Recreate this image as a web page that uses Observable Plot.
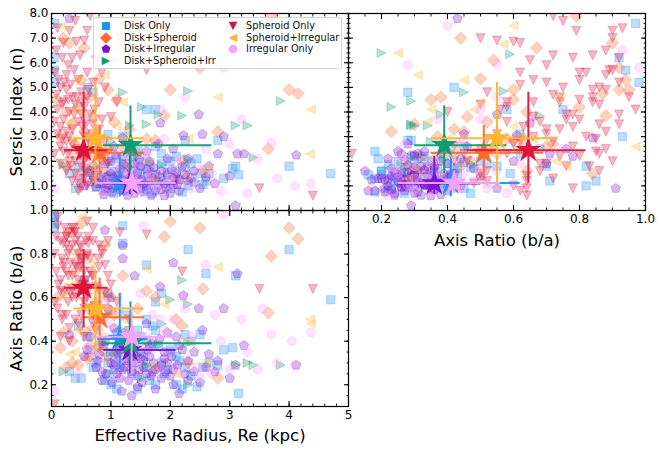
<!DOCTYPE html>
<html><head><meta charset="utf-8">
<script src="https://cdn.jsdelivr.net/npm/d3@7"></script>
<script src="https://cdn.jsdelivr.net/npm/@observablehq/plot@0.6"></script>
<style>
body{margin:0;background:#fff;font-family:"DejaVu Sans",sans-serif;}
#wrap{position:relative;width:663px;height:451px;overflow:hidden;background:#fff;}
#wrap > svg{position:absolute;}
#legend{position:absolute;left:93px;top:17px;width:249px;height:52px;box-sizing:border-box;border:1px solid #d4d4d4;border-radius:3px;background:rgba(255,255,255,0.85);font-size:9.8px;color:#111;}
#legend .it{position:absolute;white-space:nowrap;line-height:12px;}
#legend svg{position:absolute;overflow:visible;}
</style></head><body><div id="wrap"><div id="legend"></div></div>
<script>
// ---------- categories ----------
const categories = ["Disk Only","Disk+Spheroid","Disk+Irregular","Disk+Spheroid+Irr","Spheroid Only","Spheroid+Irregular","Irregular Only"];
const colors = ["#1E90FF","#FF6B2C","#7A14D2","#0E9C74","#DC143C","#FFB52E","#F7A3F7"];

// ---------- galaxies: [Re (kpc), Sersic n, axis ratio b/a] ----------
const diskOnly = [[0.05,7.6,0.97],[0.05,6.2,0.92],[0.05,5.7,0.94],[0.05,5.2,0.98],[0.60,5.0,0.42],[0.70,4.8,0.28],[1.60,4.1,0.75],[1.75,4.1,0.58],[0.95,3.1,0.62],[1.20,3.0,0.93],[1.75,2.6,0.45],[2.25,2.85,0.28],[2.10,2.2,0.33],[1.60,2.0,0.50],[1.85,1.9,0.30],[2.35,1.9,0.40],[2.50,1.5,0.43],[2.65,1.5,0.30],[2.35,1.35,0.24],[3.10,1.8,0.70],[3.05,1.7,0.37],[3.15,1.45,0.16],[4.00,1.8,0.82],[4.70,1.5,0.59],[2.80,2.85,0.29],[0.50,1.3,0.23],[1.20,1.2,0.85],[1.60,1.0,0.28],[2.30,1.0,0.82],[0.90,0.8,0.22],[2.60,1.2,0.71],[1.00,1.6,0.20],[1.40,1.4,0.35],[1.30,0.9,0.45],[0.80,1.1,0.38],[1.10,2.1,0.32],[1.50,1.7,0.42],[1.90,1.2,0.25],[2.00,0.9,0.36],[0.70,1.8,0.55],[1.70,0.7,0.47],[2.10,1.6,0.20],[1.25,1.9,0.52],[0.95,1.4,0.30],[1.45,2.4,0.18],[0.40,0.9,0.23],[1.85,2.3,0.62],[1.05,0.7,0.27],[2.45,2.1,0.19],[0.55,2.5,0.68],
  [0.85,1.35,0.40],[1.05,1.05,0.35],[1.15,1.55,0.28],[1.35,1.15,0.25],[1.55,1.35,0.33],[1.65,1.85,0.22],[1.80,1.05,0.38],[1.95,1.55,0.27],[2.15,1.25,0.31],[2.25,1.75,0.43],[0.65,1.55,0.36],[0.75,0.95,0.30],[1.25,0.8,0.40],[1.45,1.95,0.45],[1.75,1.45,0.20],[2.00,2.0,0.35],[2.55,1.05,0.28],[0.45,1.75,0.47],[1.10,1.3,0.18],[1.35,2.2,0.30],[0.30,1.5,0.26],[2.90,1.3,0.36],[0.95,2.0,0.25],[1.60,0.85,0.40],[2.20,0.75,0.18]];
const diskSpheroid = [[3.70,7.9,0.79],[0.80,5.35,0.50],[0.50,5.3,0.94],[0.95,4.9,0.60],[1.10,4.5,0.35],[1.90,3.85,0.88],[1.60,2.9,0.63],[1.75,2.85,0.60],[2.20,2.0,0.47],[2.30,1.4,0.30],[2.55,1.6,0.64],[2.10,1.3,0.50],[3.65,2.5,0.53],[4.00,4.9,0.92],[4.15,4.75,0.87],[0.30,6.8,0.90],[0.20,7.0,0.44],[0.55,6.6,0.67],[1.30,3.3,0.42],[0.35,3.5,0.30],[0.60,2.2,0.32],[0.45,4.2,0.80],[0.15,3.0,0.37],[2.50,5.8,0.92],[0.70,3.8,0.46],[1.45,2.3,0.55],[0.25,1.8,0.28],[0.90,1.5,0.84],[1.20,2.6,0.70],[2.80,3.2,0.23],[0.40,2.7,0.72],[1.00,6.1,0.54],[0.65,4.6,0.38],[2.00,4.9,0.95],[0.10,4.5,0.60],
  [0.35,2.4,0.40],[0.55,3.2,0.45],[0.75,2.9,0.58],[0.85,2.1,0.36],[1.05,3.6,0.52],[0.25,4.0,0.64],[0.65,1.6,0.33],[1.25,1.8,0.44],[0.45,1.4,0.29],[0.95,2.5,0.62]];
const diskIrregular = [[0.30,7.8,0.43],[2.48,3.9,0.55],[1.83,3.55,0.65],[2.22,3.05,0.61],[2.05,2.5,0.76],[2.54,3.1,0.45],[2.90,3.0,0.55],[2.80,2.3,0.31],[3.13,2.3,0.71],[3.24,2.3,0.38],[4.12,2.25,0.29],[3.00,1.4,0.23],[1.20,2.2,0.78],[1.40,1.9,0.70],[1.60,1.7,0.48],[1.00,1.5,0.30],[1.10,1.2,0.25],[1.30,1.0,0.22],[1.50,0.9,0.35],[1.70,1.3,0.26],[1.90,1.1,0.32],[2.10,1.5,0.42],[2.30,1.2,0.31],[2.50,0.9,0.21],[0.90,1.9,0.40],[0.80,1.1,0.34],[1.20,0.8,0.27],[1.45,1.3,0.19],[1.65,2.0,0.38],[1.85,1.6,0.29],[2.00,0.7,0.24],[2.20,1.8,0.36],[1.05,2.6,0.46],[1.35,2.4,0.33],[0.95,0.9,0.55],[1.25,1.5,0.41],[1.55,1.1,0.28],[1.75,0.8,0.18],[2.40,1.6,0.26],[2.65,1.8,0.34],[0.70,1.4,0.50],[1.15,1.7,0.23],[1.40,0.7,0.30],[1.60,2.4,0.25],[1.95,2.1,0.44],[2.15,0.8,0.16],[1.00,2.0,0.60],[1.30,1.2,0.37],[1.70,1.5,0.39],[2.05,1.3,0.20],[0.85,2.3,0.26],[1.50,1.8,0.32],[1.80,2.7,0.28],[2.30,2.1,0.22],[3.10,0.2,0.29],[1.10,1.0,0.44],[1.35,1.6,0.15],[2.75,1.1,0.26],[0.60,1.7,0.36],[1.90,0.6,0.35],[1.20,2.95,0.84],[0.90,0.9,0.91],
  [0.75,0.95,0.28],[0.85,1.25,0.22],[0.95,1.05,0.33],[1.05,1.35,0.29],[1.15,0.85,0.36],[1.25,1.15,0.31],[1.35,0.95,0.26],[1.45,1.55,0.24],[1.55,0.75,0.31],[1.65,1.05,0.33],[1.75,1.25,0.27],[1.85,0.85,0.23],[1.95,1.45,0.30],[2.05,1.05,0.27],[2.15,1.25,0.38],[0.65,1.15,0.42],[0.78,1.65,0.31],[0.92,1.35,0.25],[1.02,0.75,0.21],[1.12,1.45,0.34],[1.22,1.85,0.28],[1.32,1.35,0.40],[1.42,1.05,0.33],[1.52,1.25,0.21],[1.62,1.45,0.36],[1.72,1.75,0.30],[1.82,1.35,0.41],[1.92,0.95,0.26],[2.02,1.65,0.33],[2.12,1.05,0.29],[2.25,1.45,0.25],[2.40,1.15,0.35],[2.60,1.35,0.28],[0.88,0.65,0.38],[1.08,2.25,0.30],[1.28,0.62,0.32],[1.48,2.05,0.27],[1.68,0.62,0.24],[0.55,1.0,0.33],[1.18,1.25,0.17]];
const diskSpheroidIrr = [[1.20,4.8,0.45],[1.52,4.2,0.23],[3.86,4.45,0.29],[3.10,3.45,0.29],[3.30,3.45,0.30],[3.40,2.15,0.29],[1.32,3.45,0.34],[1.86,1.85,0.48],[2.30,6.4,0.20],[2.00,6.35,0.59],[2.30,4.85,0.57],[1.80,3.9,0.38],[2.20,3.85,0.68],[0.20,1.85,0.26],[2.30,2.1,0.39],[1.60,3.5,0.29],[1.00,2.8,0.35],[1.45,2.3,0.42]];
const spheroidOnly = [[0.10,7.4,0.93],[0.30,7.3,0.90],[0.55,6.9,0.55],[0.20,6.8,0.62],[0.42,6.85,0.60],[0.65,7.9,0.72],[0.85,7.0,0.50],[0.15,5.0,0.86],[0.25,4.9,0.84],[0.35,4.6,0.84],[0.50,4.8,0.52],[0.70,5.2,0.70],[0.90,5.0,0.75],[0.60,5.6,0.62],[0.45,5.3,0.80],[0.10,4.1,0.97],[0.30,4.0,0.40],[0.55,4.2,0.58],[0.80,4.4,0.84],[0.20,3.7,0.76],[0.45,3.6,0.68],[0.65,3.9,0.78],[0.35,3.3,0.70],[0.10,3.1,0.55],[0.55,3.0,0.66],[0.80,3.3,0.74],[0.25,2.8,0.72],[0.45,2.5,0.88],[0.60,2.2,0.80],[0.30,2.0,0.46],[0.50,1.8,0.83],[0.40,1.5,0.50],[0.55,1.3,0.72],[0.60,1.0,0.60],[0.45,1.1,0.48],[0.70,1.6,0.86],[0.20,2.4,0.85],[1.00,3.8,0.66],[1.10,4.4,0.58],[1.60,5.7,0.89],[4.40,0.6,0.64],[3.50,0.9,0.64],[2.20,6.3,0.72],[0.05,2.3,0.11],[0.15,2.6,0.42],[0.35,6.2,0.92],[0.25,5.5,0.88],[0.75,6.1,0.65],[0.50,3.9,0.76],[0.40,4.3,0.86],[0.30,3.0,0.82],[0.65,2.7,0.55],[0.15,1.9,0.68],[0.35,1.2,0.64],[0.50,0.9,0.78],[0.75,2.3,0.45],[0.95,1.9,0.70],[1.30,2.5,0.50],[0.20,4.4,0.74],[0.60,4.6,0.95],[0.05,5.6,0.80],[0.05,3.6,0.58],[0.85,5.6,0.82],[1.15,7.0,0.90],[0.40,7.7,0.75],[0.70,3.5,0.92],[0.55,2.0,0.42],[0.25,1.6,0.52],[0.45,0.8,0.62],[0.90,2.8,0.62],
  [0.08,6.5,0.88],[0.18,6.2,0.78],[0.28,5.9,0.70],[0.38,5.7,0.90],[0.48,6.3,0.84],[0.12,5.3,0.66],[0.22,5.2,0.92],[0.32,5.1,0.62],[0.42,4.6,0.74],[0.52,4.4,0.66],[0.62,4.9,0.88],[0.72,4.1,0.56],[0.08,4.7,0.72],[0.18,4.3,0.50],[0.28,4.5,0.80],[0.38,3.9,0.92],[0.58,3.5,0.86],[0.68,3.1,0.70],[0.78,2.6,0.78],[0.15,3.4,0.63],[0.25,3.2,0.88],[0.35,2.7,0.60],[0.48,2.2,0.74],[0.58,1.6,0.68],[0.40,2.0,0.90],[0.28,2.3,0.58],[0.70,1.2,0.52],[0.62,2.9,0.85],[0.85,3.7,0.80],[0.52,3.4,0.78],[0.18,2.9,0.52],[0.78,1.4,0.64],[0.32,1.8,0.76],[0.95,2.3,0.86],[0.60,7.3,0.79]];
const spheroidIrregular = [[2.80,4.6,0.74],[4.37,4.1,0.48],[0.42,5.3,0.45],[0.17,7.5,0.60],[0.90,5.5,0.31],[2.10,6.4,0.25],[1.90,6.75,0.57],[1.10,3.4,0.60],[0.30,3.6,0.34],[4.35,2.3,0.50],[1.60,2.0,0.73],[2.60,1.7,0.30],[0.50,2.6,0.97],[0.40,4.1,0.35],[1.70,1.3,0.28],[0.75,3.0,0.62],[2.30,2.9,0.40],[0.65,1.8,0.76],[0.55,3.9,0.55],[0.85,2.4,0.42],[0.35,2.9,0.66],[1.20,4.4,0.50]];
const irregularOnly = [[2.25,4.6,0.55],[1.83,4.1,0.50],[3.00,2.7,0.27],[3.70,2.75,0.43],[4.10,1.0,0.29],[4.37,1.1,0.44],[3.47,2.1,0.27],[2.85,0.8,0.40],[1.55,6.5,0.93],[2.45,5.9,0.28],[3.55,5.95,0.55],[3.20,3.7,0.50],[0.45,1.3,0.25],[2.70,1.5,0.25],[2.50,1.7,0.24],[3.80,1.3,0.30],[1.20,1.0,0.44],[1.40,1.5,0.38],[1.70,0.9,0.52],[2.00,1.3,0.34],[0.90,0.7,0.58],[1.10,1.8,0.30],[2.20,1.1,0.60],[0.05,0.9,0.17],[1.60,2.3,0.42],[2.60,2.5,0.75],[0.70,2.0,0.35],[1.90,2.9,0.45],[1.30,0.6,0.22],[2.90,5.8,0.98],[0.60,3.7,0.37],[4.05,7.5,0.40],
  [0.95,1.2,0.48],[1.15,1.6,0.55],[1.45,0.8,0.30],[1.65,1.4,0.36],[1.85,1.0,0.28],[2.05,1.7,0.50],[2.35,0.9,0.42],[1.25,1.3,0.33],[0.80,1.5,0.45],[2.15,2.1,0.26],[1.50,1.9,0.62],[2.75,1.1,0.52],[3.30,0.7,0.35]];

// ---------- medians with 16th-84th percentile ranges ----------
const medRe   = [1.15, 0.81, 1.32, 1.33, 0.54, 0.74, 1.35];
const medReLo = [0.78, 0.53, 0.88, 0.87, 0.22, 0.37, 0.76];
const medReHi = [1.62, 1.57, 2.10, 2.70, 0.95, 1.55, 2.10];
const medN    = [1.12, 2.35, 1.10, 2.65, 2.45, 2.93, 1.12];
const medNLo  = [0.55, 1.40, 0.65, 1.50, 1.10, 1.00, 0.70];
const medNHi  = [2.10, 3.45, 2.20, 4.25, 4.80, 5.20, 1.60];
const medQ    = [0.41, 0.51, 0.36, 0.39, 0.645, 0.55, 0.42];
const medQLo  = [0.27, 0.35, 0.25, 0.30, 0.46, 0.35, 0.25];
const medQHi  = [0.62, 0.69, 0.50, 0.58, 0.82, 0.73, 0.56];

// ---------- ticks ----------
const reTicks = [0, 1, 2, 3, 4, 5];
const nTicks = [1, 2, 3, 4, 5, 6, 7, 8];
const qTicks = [0.2, 0.4, 0.6, 0.8, 1.0];

const groups = [diskOnly, diskSpheroid, diskIrregular, diskSpheroidIrr, spheroidOnly, spheroidIrregular, irregularOnly];
const medians = categories.map((c, i) => ({
  cat: c, re: medRe[i], reLo: medReLo[i], reHi: medReHi[i],
  n: medN[i], nLo: medNLo[i], nHi: medNHi[i],
  q: medQ[i], qLo: medQLo[i], qHi: medQHi[i]
}));

// ---------- marker shapes (matplotlib-like) ----------
const sideOf = size => 2 * Math.sqrt(size / Math.PI);
const symSquare = {draw(c, size){const s = sideOf(size)*0.92; c.moveTo(-s/2,-s/2); c.lineTo(s/2,-s/2); c.lineTo(s/2,s/2); c.lineTo(-s/2,s/2); c.closePath();}};
const symDiamond = {draw(c, size){const h = sideOf(size)*0.68; c.moveTo(0,-h); c.lineTo(h,0); c.lineTo(0,h); c.lineTo(-h,0); c.closePath();}};
const symPentagon = {draw(c, size){const R = sideOf(size)*0.55; for(let i=0;i<5;i++){const a=i*2*Math.PI/5; const x=R*Math.sin(a), y=-R*Math.cos(a); i?c.lineTo(x,y):c.moveTo(x,y);} c.closePath();}};
const symTriRight = {draw(c, size){const s = sideOf(size); c.moveTo(-s/2,-s/2); c.lineTo(s/2,0); c.lineTo(-s/2,s/2); c.closePath();}};
const symTriDown = {draw(c, size){const s = sideOf(size); c.moveTo(-s/2,-s/2); c.lineTo(s/2,-s/2); c.lineTo(0,s/2); c.closePath();}};
const symTriLeft = {draw(c, size){const s = sideOf(size); c.moveTo(s/2,-s/2); c.lineTo(-s/2,0); c.lineTo(s/2,s/2); c.closePath();}};
const symCircle = {draw(c, size){const R = sideOf(size)*0.5; c.moveTo(R,0); c.arc(0,0,R,0,2*Math.PI); c.closePath();}};
const symStar = {draw(c, size){const R = sideOf(size)/2, r = R*0.382; for(let i=0;i<10;i++){const a=i*Math.PI/5; const rr = i%2?r:R; const x=rr*Math.sin(a), y=-rr*Math.cos(a); i?c.lineTo(x,y):c.moveTo(x,y);} c.closePath();}};
const shapes = [symSquare, symDiamond, symPentagon, symTriRight, symTriDown, symTriLeft, symCircle];

// ---------- helpers ----------
function scatter(xi, yi) {
  return groups.map((g, k) => Plot.dot(g, {
    x: d => d[xi], y: d => d[yi], symbol: shapes[k], r: 4.5,
    fill: colors[k], fillOpacity: 0.3, stroke: colors[k], strokeOpacity: 0.32, strokeWidth: 0.9, clip: true
  }));
}
function medianMarks(xk, yk) {
  const out = [];
  medians.forEach((m, k) => {
    out.push(Plot.ruleY([m], {y: yk, x1: xk + "Lo", x2: xk + "Hi", stroke: colors[k], strokeWidth: 2, strokeOpacity: 0.95, clip: true}));
    out.push(Plot.ruleX([m], {x: xk, y1: yk + "Lo", y2: yk + "Hi", stroke: colors[k], strokeWidth: 2, strokeOpacity: 0.95, clip: true}));
    out.push(Plot.dot([m], {x: xk, y: yk, symbol: symStar, r: 13.5, fill: colors[k], stroke: "none"}));
  });
  return out;
}
function ticksAll(xMajor, xMinor, yMajor, yMinor) {
  const out = [];
  for (const anchor of ["bottom", "top"]) {
    out.push(Plot.axisX(xMajor, {anchor, tickSize: -5, fill: "none", label: null, strokeWidth: 1.1}));
    out.push(Plot.axisX(xMinor, {anchor, tickSize: -2.5, fill: "none", label: null, strokeWidth: 0.9}));
  }
  for (const anchor of ["left", "right"]) {
    out.push(Plot.axisY(yMajor, {anchor, tickSize: -5, fill: "none", label: null, strokeWidth: 1.1}));
    out.push(Plot.axisY(yMinor, {anchor, tickSize: -2.5, fill: "none", label: null, strokeWidth: 0.9}));
  }
  return out;
}
const f1 = d3.format(".1f"), f0 = d3.format("d");
const reMinor = d3.range(0, 5.001, 0.2);
const nMinor = d3.range(0, 8.001, 0.2);
const qMinor = d3.range(0.1, 1.0001, 0.05);
const baseStyle = {background: "transparent", fontFamily: "DejaVu Sans, sans-serif", fontSize: "12px", color: "black", overflow: "visible"};
const titleSize = 16.5;

// ---------- panel A: Re vs n ----------
const plotA = Plot.plot({
  width: 352, height: 214, marginLeft: 51, marginRight: 4, marginTop: 13, marginBottom: 4,
  style: baseStyle,
  x: {domain: [0, 5]}, y: {domain: [0, 8]},
  marks: [
    ...scatter(0, 1),
    ...medianMarks("re", "n"),
    ...ticksAll(reTicks, reMinor, nTicks, nMinor),
    Plot.axisY(nTicks, {anchor: "left", tickSize: 0, tickPadding: 3, tickFormat: f1, label: null, fontSize: 12}),
    Plot.text(["Sersic Index (n)"], {frameAnchor: "left", dx: -35, rotate: -90, textAnchor: "middle", lineAnchor: "middle", fontSize: titleSize}),
    Plot.frame({stroke: "black", strokeWidth: 1.2})
  ]
});
// ---------- panel B: q vs n ----------
const plotB = Plot.plot({
  width: 319, height: 250, marginLeft: 4, marginRight: 18, marginTop: 13, marginBottom: 40,
  style: baseStyle,
  x: {domain: [0.1, 1.0]}, y: {domain: [0, 8]},
  marks: [
    ...scatter(2, 1),
    ...medianMarks("q", "n"),
    ...ticksAll(qTicks, qMinor, nTicks, nMinor),
    Plot.axisX(qTicks, {anchor: "bottom", tickSize: 0, tickPadding: 4, tickFormat: f1, label: null, fontSize: 12}),
    Plot.text(["Axis Ratio (b/a)"], {frameAnchor: "bottom", dy: 30, textAnchor: "middle", lineAnchor: "middle", fontSize: titleSize}),
    Plot.frame({stroke: "black", strokeWidth: 1.2})
  ]
});
// ---------- panel C: Re vs q ----------
const plotC = Plot.plot({
  width: 352, height: 245, marginLeft: 51, marginRight: 4, marginTop: 4, marginBottom: 45,
  style: baseStyle,
  x: {domain: [0, 5]}, y: {domain: [0.1, 1.0]},
  marks: [
    ...scatter(0, 2),
    ...medianMarks("re", "q"),
    ...ticksAll(reTicks, reMinor, qTicks, qMinor),
    Plot.axisX(reTicks, {anchor: "bottom", tickSize: 0, tickPadding: 4, tickFormat: f0, label: null, fontSize: 12}),
    Plot.axisY(qTicks, {anchor: "left", tickSize: 0, tickPadding: 3, tickFormat: f1, label: null, fontSize: 12}),
    Plot.text(["Effective Radius, Re (kpc)"], {frameAnchor: "bottom", dy: 29, textAnchor: "middle", lineAnchor: "middle", fontSize: titleSize}),
    Plot.text(["Axis Ratio (b/a)"], {frameAnchor: "left", dx: -35, rotate: -90, textAnchor: "middle", lineAnchor: "middle", fontSize: titleSize}),
    Plot.frame({stroke: "black", strokeWidth: 1.2})
  ]
});

const wrap = document.getElementById("wrap");
const legendEl = document.getElementById("legend");
function place(svg, left, top) { svg.style.left = left + "px"; svg.style.top = top + "px"; wrap.insertBefore(svg, legendEl); }
place(plotC, 0, 206);
place(plotB, 344, 0);
place(plotA, 0, 0);

// ---------- legend ----------
const legendPos = [[0,0],[0,1],[0,2],[0,3],[1,0],[1,1],[1,2]];
categories.forEach((c, k) => {
  const [col, row] = legendPos[k];
  const cx = col ? 139 : 12, cy = 8 + row * 11.7;
  const p = d3.path(); shapes[k].draw(p, Math.PI * 4.3 * 4.3);
  const ns = "http://www.w3.org/2000/svg";
  const s = document.createElementNS(ns, "svg");
  s.setAttribute("width", 1); s.setAttribute("height", 1);
  s.style.left = cx + "px"; s.style.top = cy + "px";
  const path = document.createElementNS(ns, "path");
  path.setAttribute("d", p.toString()); path.setAttribute("fill", colors[k]);
  s.appendChild(path); legendEl.appendChild(s);
  const t = document.createElement("div"); t.className = "it";
  t.style.left = (col ? 152 : 30) + "px"; t.style.top = (cy - 6) + "px";
  t.textContent = c; legendEl.appendChild(t);
});
</script></body></html>
